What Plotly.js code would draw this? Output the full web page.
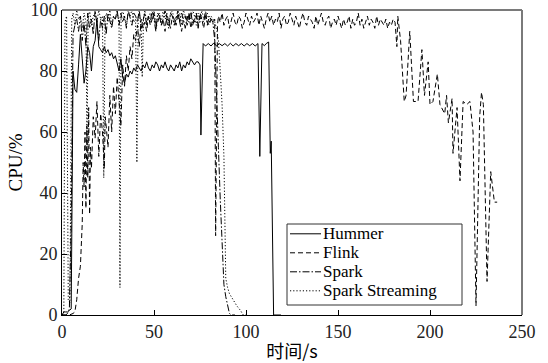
<!DOCTYPE html>
<html><head><meta charset="utf-8">
<script src="https://cdn.plot.ly/plotly-3.0.1.min.js"></script>
<style>html,body{margin:0;padding:0;background:#fff}#c{width:548px;height:363px}</style>
</head><body><div id="c"></div>
<script>
// ---- data: [time s, CPU %] ----
const hummer = [[0,0],[1,1],[2,1],[3,1],[4,1.5],[5,2],[5.5,40],[6,80],[7,74],[8,73],[9,82],[10,92],[11,84],[12,76],[13,80],[14,88],[15,86],[16,80],[17,88],[18,90],[19,97],[20,88],[21,87],[22,86],[23,88],[24,86],[25,87],[26,85],[27,86],[28,84],[29,85],[30,82],[31,80],[32,84],[33,78],[34,76],[35,79],[36,78],[37,80],[38,79],[39,81],[40,80],[41,82],[42,81],[43,80],[44,82],[45,81],[46,83],[47,81],[48,80],[49,82],[50,81],[51,83],[52,82],[53,80],[54,82],[55,81],[56,83],[57,81],[58,80],[59,82],[60,81],[61,80],[62,82],[63,81],[64,83],[65,80],[66,82],[67,81],[68,83],[69,82],[70,84],[71,83],[72,82],[73,83],[74,83],[75,82],[75.5,59],[76.7,89],[78,88.2],[79.5,89],[81,88.2],[82.5,89.2],[84,88.2],[85.5,89],[87,88.3],[88.5,89],[90,88.2],[91.5,89.1],[93,88.2],[94.5,89],[96,88.3],[97.5,89],[99,88.2],[100.5,89],[102,88.3],[103.5,89],[105,88.2],[106.5,89],[107.5,52],[108.7,89],[110,88.3],[111,89],[112.3,89.5],[113.2,53],[113.7,57],[115,0],[119,0]];

const flink = [[0,0],[2,0],[4,0],[6,0.5],[7,1],[8,5],[9,12],[10,16],[11,30],[11.5,50],[12,42],[12.5,60],[13,35],[13.5,62],[14,45],[14.5,68],[15,33],[15.5,55],[16,48],[17,65],[18,58],[19,70],[20,52],[21,66],[22,60],[23,48],[23.5,65],[24,62],[25,55],[26,72],[27,60],[28,75],[29,66],[30,78],[31,70],[32,62],[33,82],[34,75],[35,85],[36,80],[37,88],[38,84],[39,92],[40,90],[41,95],[42,88],[43,97],[44,94],
[45,96],[46,93],[47,98],[48,95],[49,97],[50,99],[51,94],[52,96],[53,98],[54,95],
[55,97],[56,93],[57,99],[58,96],[59,94],[60,98],[61,97],[62,95],[63,99],[64,96],
[65,93],[66,97],[67,98],[68,95],[69,99],[70,94],[71,97],[72,96],[73,98],[74,95],
[75,99],[76,97],[77,94],[78,98],[79,96],[80,95],[81,97],[82,96],[83,97],[83.5,26],[84.5,95],
[85,98],[86,96],[87,99],[88,95],[89,97],[90,98],[91,94],[92,97],[93,99],[94,96],
[95,95],[96,98],[97,97],[98,94],[99,96],[100,99],
[101,97],[102,95],[103,98],[104,96],[105,97],[106,99],[107,95],[108,98],[109,96],[110,94],
[111,97],[112,99],[113,96],[114,98],[115,95],[116,97],[117,96],[118,99],[119,94],[120,97],
[121,98],[122,95],[123,96],[124,99],[125,97],[126,95],[127,98],[128,96],[129,94],[130,97],
[131,99],[132,96],[133,95],[134,98],[135,97],[136,96],[137,94],[138,98],[139,95],[140,97],
[141,99],[142,96],[143,95],[144,97],[145,98],[146,94],[147,96],[148,97],[149,95],[150,98],
[151,96],[152,94],[153,97],[154,95],[155,96],[156,98],[157,94],[158,97],[159,95],[160,96],
[161,99],[162,95],[163,97],[164,94],[165,96],[166,98],[167,95],[168,97],[169,96],[170,94],
[171,98],[172,95],[173,97],[174,96],[175,95],[176,97],[177,94],[178,96],[179,95],[180,97],[181,96],
[182,88],[182.5,98],[184,90],[186,70],[187,72],[189,93],[191,70],[193.5,70],[195.6,87],[197,72],[199,83],[200,69],[201.6,70],[204,79],[205.4,69],[208,66],[209,72],[210,63],[212,71],[212.5,53],[214.7,68],[216.3,44],[218,70],[220,69],[221.7,70],[223.4,60],[225,3],[227,65],[228,73],[229,69],[231,11],[233,47],[235,37],[236.5,37]];

const spark = [[0,0],[1,0],[2,0],[3,0.5],[4,2],[5,30],[5.5,70],
[6,92],[7,95],[8,97],[9,93],[10,98],[11,90],[12,96],[13,88],[14,99],[15,94],
[16,97],[17,92],[18,100],[19,95],[20,90],[21,97],[22,94],[23,98],[24,92],[25,99],
[26,96],[27,94],[28,98],[29,97],[30,100],[31,95],[32,99],[33,96],[34,98],[35,94],
[36,100],[37,97],[38,95],[39,99],[40,98],[41,96],[42,100],[43,94],[44,97],[45,99],
[46,95],[47,98],[48,96],[49,100],[50,97],[51,93],[52,99],[53,98],[54,95],[55,97],
[56,100],[57,96],[58,94],[59,99],[60,98],[61,95],[62,97],[63,100],[64,96],[65,99],
[66,97],[67,94],[68,98],[69,96],[70,100],[71,95],[72,97],[73,99],[74,94],[75,98],
[76,97],[77,96],[78,100],[79,95],[80,98],[81,97],[82,96],[83,90],
[84,75],[85,55],[86,38],[87,22],[88,10],[89,6],[90,3],[91,0.5],[92,0],[94,0]];

const sparkStreaming = [[0,0],[1,1],[1.6,96],[2.5,98],[3.4,5],[4.3,4],[5.3,97],[6,99],[7,95],[8,100],[9,97],[10,98],[11,94],[12,99],[13,96],[13.6,55],[14.2,97],[15,100],[16,95],[17,98],[18,99],[19,96],[20,100],[21,97],[22,98],[22.7,45],[23.4,97],[24.2,99],[25,96],[26,100],[27,95],[28,98],[29,97],[30,99],[31,96],[31.5,9],[32.1,98],[33,100],[34,97],[35,95],[36,99],[37,98],[38,100],[39,96],[40,97],[40.7,50],[41.4,98],[42,99],[43,95],[43.6,78],[44.3,97],[45,100],
[46,96],[47,98],[48,99],[49,97],[50,100],[51,95],[52,98],[53,99],[54,96],[55,100],
[56,97],[57,98],[58,95],[59,99],[60,100],[61,96],[62,98],[63,97],[64,99],[65,95],
[66,100],[67,98],[68,96],[69,99],[70,97],[71,100],[72,98],[73,95],[74,99],[75,96],
[76,100],[77,97],[78,98],[79,99],[80,96],[81,98],[82,97],[83,96],
[84,94],[85,90],[86,80],[87,69],[88,52],[88.6,30],[89,12],[90,9],[91,7],[93,5],[95,3],[97,1.5],[98.5,0],[100,0]];

const seriesNames = ['Hummer','Flink','Spark','Spark Streaming'];
const xTicks = [0,50,100,150,200,250];
const yTicks = [0,20,40,60,80,100];

// ---- styling ----
const serif = '"Liberation Serif", "DejaVu Serif", serif';
const dashes = ['solid','5px,3px','7px,2px,1.5px,2px','1.2px,2px'];
const seriesData = [hummer, flink, spark, sparkStreaming];

const traces = seriesData.map((d, i) => ({
  type:'scatter', mode:'lines', name: seriesNames[i], showlegend:false,
  x: d.map(p => p[0]), y: d.map(p => p[1]),
  line: {color:'#000', width:1, dash: dashes[i]}
}));

// hand-built legend box (paper coords)
const px2x = px => (px - 62) / 460;
const py2y = py => (315 - py) / 305;
const shapes = [
  {type:'line', xref:'paper', yref:'paper', x0:0, x1:1, y0:1, y1:1, line:{color:'#7a7a7a', width:2}},
  {type:'line', xref:'paper', yref:'paper', x0:1, x1:1, y0:0, y1:1, line:{color:'#7a7a7a', width:2}},
  {type:'rect', xref:'paper', yref:'paper', x0:px2x(287), x1:px2x(462), y0:py2y(305), y1:py2y(224),
   fillcolor:'#fff', line:{color:'#333', width:1}, layer:'above'}
];
const rowsPy = [233.8, 252.8, 271.8, 290.8];
const annotations = [];
seriesNames.forEach((n, i) => {
  shapes.push({type:'line', xref:'paper', yref:'paper', x0:px2x(290), x1:px2x(321), y0:py2y(rowsPy[i]), y1:py2y(rowsPy[i]),
               line:{color:'#000', width:1, dash: dashes[i]}, layer:'above'});
  annotations.push({xref:'paper', yref:'paper', x:px2x(322), y:py2y(rowsPy[i]), xanchor:'left', yanchor:'middle',
                    text:n, showarrow:false, borderpad:0, font:{family: serif, size:17, color:'#000'}});
});

const layout = {
  width: 548, height: 363,
  margin: {l:62, r:26, t:10, b:48},
  paper_bgcolor:'#fff', plot_bgcolor:'#fff',
  font: {family: serif, color:'#000', size:18},
  showlegend: false,
  shapes: shapes, annotations: annotations,
  xaxis: {range:[0,250], tickvals:xTicks, ticktext:xTicks.map(String), ticks:'inside', ticklen:5, tickcolor:'#000',
          showline:true, linecolor:'#000', linewidth:1, mirror:false, showgrid:false, zeroline:false,
          tickfont:{family: serif, size:18, color:'#222'},
          title:{text:'时间/s', font:{family:'"Noto Sans CJK SC", '+serif, size:18, color:'#000'}, standoff:6}},
  yaxis: {range:[0,100], tickvals:yTicks, ticktext:yTicks.map(String), ticks:'inside', ticklen:5, tickcolor:'#000',
          showline:true, linecolor:'#000', linewidth:1, mirror:false, showgrid:false, zeroline:false,
          tickfont:{family: serif, size:18, color:'#222'},
          title:{text:'CPU/%', font:{family: serif, size:19, color:'#000'}, standoff:2}}
};
Plotly.newPlot('c', traces, layout, {displayModeBar:false, staticPlot:true});
</script>
</body></html>
